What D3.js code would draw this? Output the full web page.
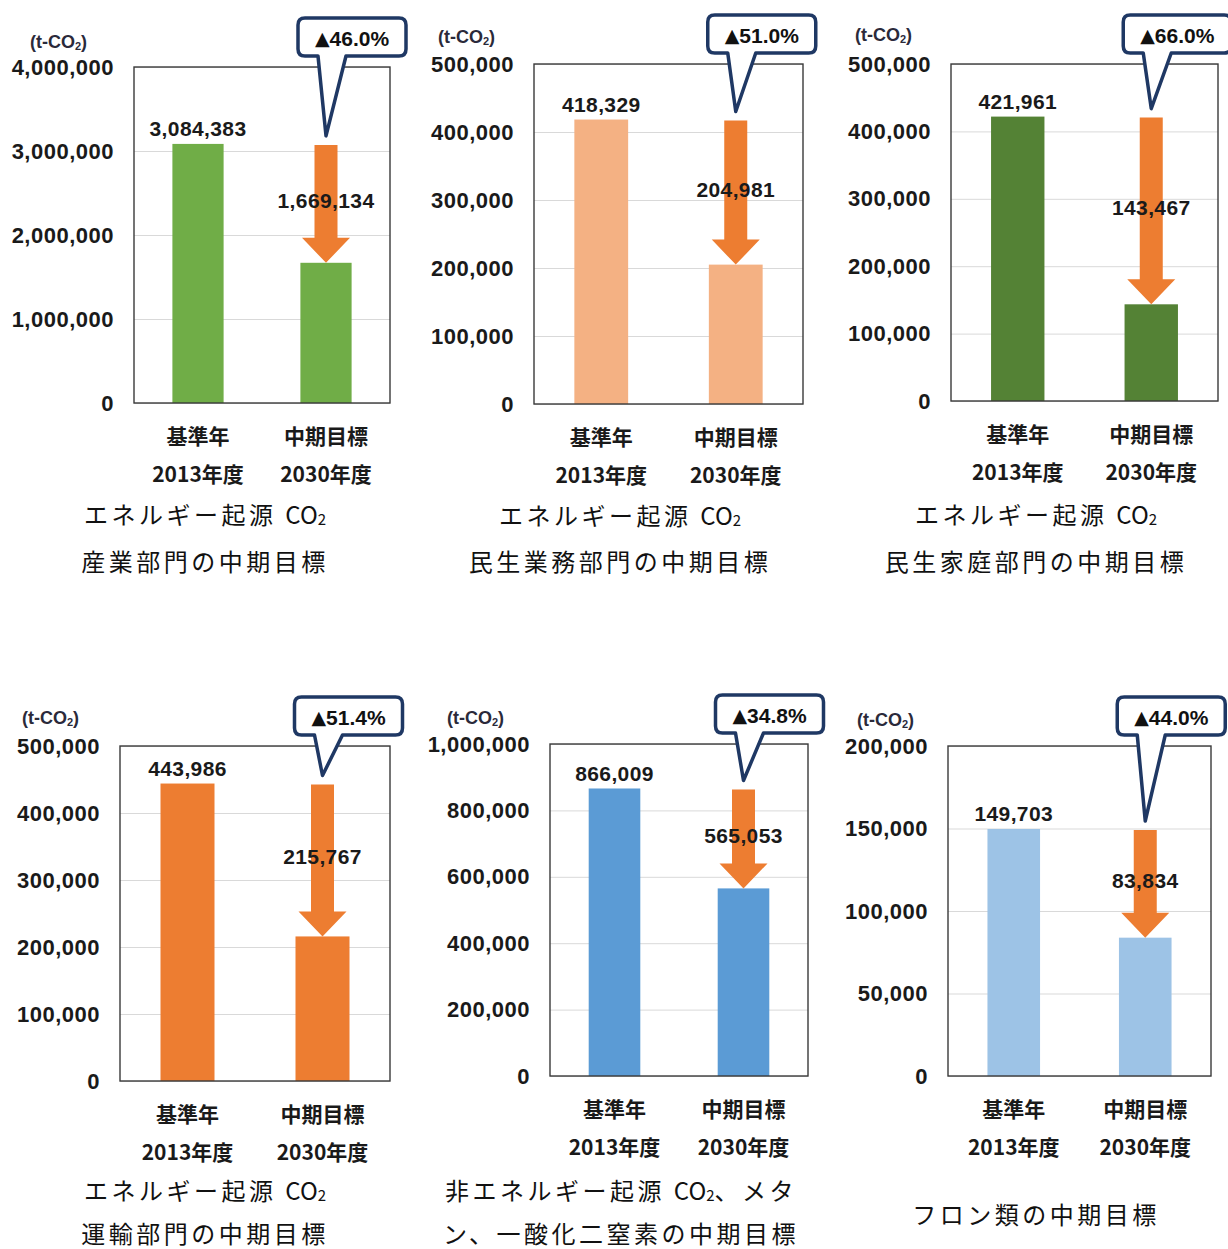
<!DOCTYPE html>
<html>
<head>
<meta charset="utf-8">
<script src="https://cdn.jsdelivr.net/npm/d3@7"></script>
<style>
  body { margin: 0; background: #fff; }
  svg { display: block; }
</style>
</head>
<body>
<svg id="chart" width="1228" height="1249"></svg>
<script>
// data
var categories = ["基準年", "中期目標"];
var categoryYears = ["2013年度", "2030年度"];
var baseValues = [3084383, 418329, 421961, 443986, 866009, 149703];
var targetValues = [1669134, 204981, 143467, 215767, 565053, 83834];
var reductionLabels = ["46.0%", "51.0%", "66.0%", "51.4%", "34.8%", "44.0%"];
var yMaxValues = [4000000, 500000, 500000, 500000, 1000000, 200000];
var yTickSteps = [1000000, 100000, 100000, 100000, 200000, 50000];
var captions = [
  ["エネルギー起源 CO₂", "産業部門の中期目標"],
  ["エネルギー起源 CO₂", "民生業務部門の中期目標"],
  ["エネルギー起源 CO₂", "民生家庭部門の中期目標"],
  ["エネルギー起源 CO₂", "運輸部門の中期目標"],
  ["非エネルギー起源 CO₂、メタ", "ン、一酸化二窒素の中期目標"],
  ["フロン類の中期目標"]
];
var unitLabel = "(t-CO₂)";

// layout / style (kept apart from the data)
var barColors = ["#70AD47", "#F4B183", "#548235", "#ED7D31", "#5B9BD5", "#9DC3E6"];
var arrowColor = "#ED7D31";
var calloutColor = "#1F3864";
var panels = [
  { left: 134, right: 390, top: 67, bottom: 403, unitX: 30, unitY: 42, capX: 205, capY: [513, 560] },
  { left: 534, right: 803, top: 64, bottom: 404, unitX: 438, unitY: 37, capX: 620, capY: [514, 560] },
  { left: 951, right: 1218, top: 64, bottom: 401, unitX: 855, unitY: 35, capX: 1036, capY: [513, 560] },
  { left: 120, right: 390, top: 746, bottom: 1081, unitX: 22, unitY: 718, capX: 205, capY: [1189, 1232] },
  { left: 550, right: 808, top: 744, bottom: 1076, unitX: 447, unitY: 718, capX: 621, capY: [1189, 1232] },
  { left: 948, right: 1211, top: 746, bottom: 1076, unitX: 857, unitY: 720, capX: 1036, capY: [1213] }
];

var numFont = "'Liberation Sans', Arial, sans-serif";
var jpFont = "'Noto Sans CJK JP', 'Noto Sans', sans-serif";

var svg = d3.select("#chart");

// writes a string, turning "₂" into a small lowered 2; "CO" is kept tight
function subText(sel, str, fs) {
  var parts = str.split("₂");
  var shift = Math.round(fs * 0.22);
  parts.forEach(function(p, i) {
    var back = i > 0 ? -shift : 0;
    if (p) {
      if (i < parts.length - 1 && /CO$/.test(p)) {
        var head = p.slice(0, -2);
        if (head) sel.append("tspan").attr("dy", back).text(head), back = 0;
        sel.append("tspan").attr("dy", back).attr("letter-spacing", 0).text("CO");
      } else {
        sel.append("tspan").attr("dy", back).text(p);
      }
    }
    if (i < parts.length - 1) {
      sel.append("tspan").attr("font-size", Math.round(fs * 0.62)).attr("dy", shift)
        .attr("letter-spacing", 0).text("2");
    }
  });
}

panels.forEach(function(pos, i) {
  var w = pos.right - pos.left,
      h = pos.bottom - pos.top,
      base = baseValues[i],
      target = targetValues[i];

  var y = d3.scaleLinear().domain([0, yMaxValues[i]]).range([h, 0]);
  var x = d3.scaleBand().domain(categories).range([0, w]).paddingInner(0.6).paddingOuter(0.3);
  var ticks = d3.range(0, yMaxValues[i] + 1, yTickSteps[i]);

  var g = svg.append("g").attr("transform", "translate(" + pos.left + "," + pos.top + ")");

  // grid
  var grid = g.append("g").call(d3.axisLeft(y).tickValues(ticks).tickSize(-w).tickFormat(""));
  grid.select(".domain").remove();
  grid.selectAll("line").attr("stroke", "#d9d9d9").attr("stroke-width", 1);

  // tick labels
  var ax = g.append("g").call(d3.axisLeft(y).tickValues(ticks).tickSize(0).tickPadding(20).tickFormat(d3.format(",")));
  ax.select(".domain").remove();
  ax.selectAll("text")
    .attr("font-family", numFont)
    .attr("font-weight", "bold")
    .attr("font-size", 22)
    .attr("letter-spacing", 0.5)
    .attr("fill", "#1a1a1a");

  // bars
  g.selectAll("rect.bar")
    .data([base, target])
    .enter().append("rect")
      .attr("class", "bar")
      .attr("x", function(d, j) { return x(categories[j]); })
      .attr("width", x.bandwidth())
      .attr("y", function(d) { return y(d); })
      .attr("height", function(d) { return h - y(d); })
      .attr("fill", barColors[i]);

  // frame
  g.append("rect")
    .attr("width", w).attr("height", h)
    .attr("fill", "none")
    .attr("stroke", "#3a3a3a")
    .attr("stroke-width", 1.4);

  // arrow from base level down to target
  var cx0 = x(categories[0]) + x.bandwidth() / 2,
      cx = x(categories[1]) + x.bandwidth() / 2,
      ya = y(base) + 1,
      yb = y(target),
      sw = 11.5, hw = 24, hl = 25;
  g.append("path")
    .attr("d", "M" + (cx - sw) + "," + ya + "H" + (cx + sw) + "V" + (yb - hl) +
      "H" + (cx + hw) + "L" + cx + "," + yb + "L" + (cx - hw) + "," + (yb - hl) +
      "H" + (cx - sw) + "Z")
    .attr("fill", arrowColor);

  // value labels
  g.append("text")
    .attr("x", cx0).attr("y", y(base) - 15)
    .attr("text-anchor", "middle").attr("dominant-baseline", "central")
    .attr("font-family", numFont).attr("font-weight", "bold").attr("font-size", 21)
    .attr("letter-spacing", 0.4).attr("fill", "#1a1a1a")
    .text(d3.format(",")(base));

  g.append("text")
    .attr("x", cx).attr("y", (y(base) + y(target)) / 2 - 3)
    .attr("text-anchor", "middle").attr("dominant-baseline", "central")
    .attr("font-family", numFont).attr("font-weight", "bold").attr("font-size", 21)
    .attr("letter-spacing", 0.4).attr("fill", "#1a1a1a")
    .text(d3.format(",")(target));

  // category labels
  categories.forEach(function(c, j) {
    var px = x(c) + x.bandwidth() / 2;
    [c, categoryYears[j]].forEach(function(t, k) {
      g.append("text")
        .attr("x", px).attr("y", h + 32 + k * 38)
        .attr("text-anchor", "middle").attr("dominant-baseline", "central")
        .attr("font-family", jpFont).attr("font-weight", "bold").attr("font-size", 21)
        .attr("fill", "#1a1a1a")
        .text(t);
    });
  });

  // callout
  var L = cx - 28, R = L + 108, T = -49, B = T + 38, r = 7, tip = y(base) - 8;
  g.append("path")
    .attr("d", "M" + (L + r) + "," + T + "H" + (R - r) + "Q" + R + "," + T + " " + R + "," + (T + r) +
      "V" + (B - r) + "Q" + R + "," + B + " " + (R - r) + "," + B +
      "H" + (cx + 20) + "L" + cx + "," + tip + "L" + (cx - 8) + "," + B +
      "H" + (L + r) + "Q" + L + "," + B + " " + L + "," + (B - r) +
      "V" + (T + r) + "Q" + L + "," + T + " " + (L + r) + "," + T + "Z")
    .attr("fill", "#fff")
    .attr("stroke", calloutColor)
    .attr("stroke-width", 3.5)
    .attr("stroke-linejoin", "round");
  var ct = g.append("text")
    .attr("x", (L + R) / 2).attr("y", (T + B) / 2 + 1)
    .attr("text-anchor", "middle").attr("dominant-baseline", "central")
    .attr("font-family", numFont).attr("font-weight", "bold").attr("font-size", 21)
    .attr("fill", "#111");
  ct.append("tspan").attr("font-family", "'DejaVu Sans', sans-serif").attr("font-size", 19).text("▲");
  ct.append("tspan").text(reductionLabels[i]);

  // unit
  var u = svg.append("text")
    .attr("x", pos.unitX).attr("y", pos.unitY)
    .attr("dominant-baseline", "central")
    .attr("font-family", numFont).attr("font-weight", "bold").attr("font-size", 18)
    .attr("fill", "#2a2a3a");
  subText(u, unitLabel, 18);

  // caption
  captions[i].forEach(function(line, k) {
    var t = svg.append("text")
      .attr("x", pos.capX).attr("y", pos.capY[k])
      .attr("text-anchor", "middle").attr("dominant-baseline", "central")
      .attr("font-family", jpFont).attr("font-size", 24)
      .attr("letter-spacing", 3.5)
      .attr("fill", "#111");
    subText(t, line, 24);
  });
});
</script>
</body>
</html>
